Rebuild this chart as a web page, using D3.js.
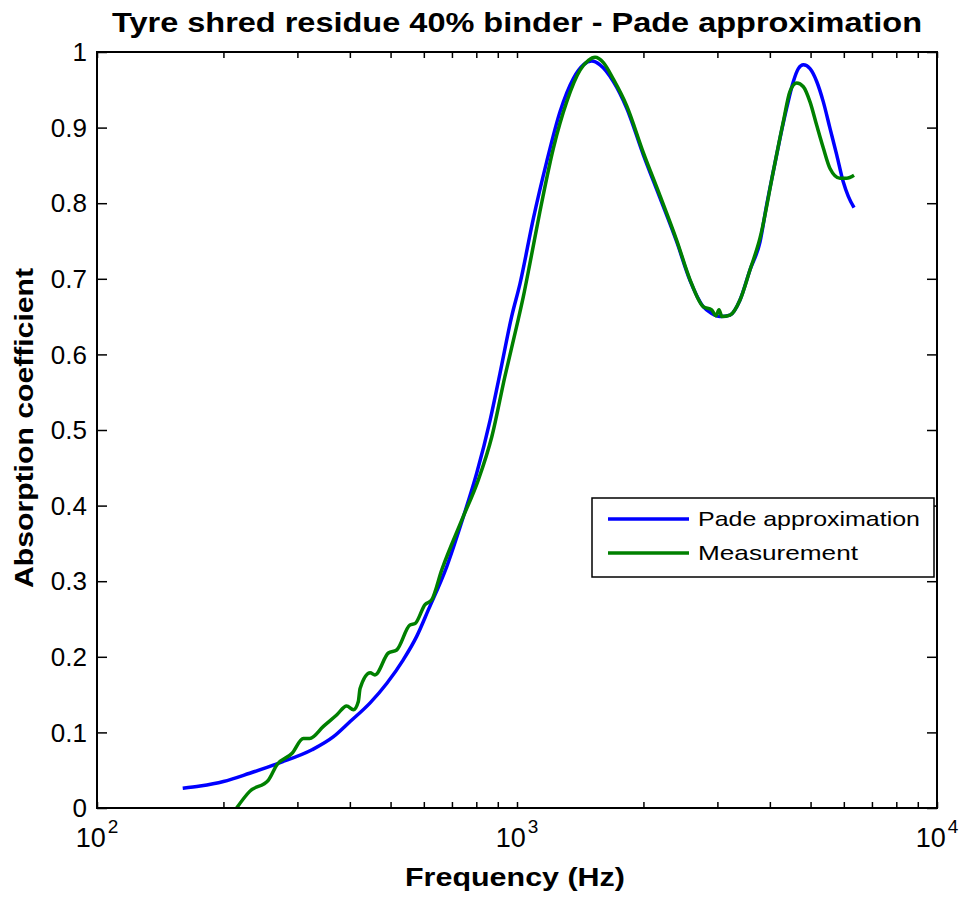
<!DOCTYPE html>
<html>
<head>
<meta charset="utf-8">
<script src="https://cdn.jsdelivr.net/npm/d3@7"></script>
<style>
  html, body { margin: 0; padding: 0; background: #fff; }
  svg { display: block; }
  text { font-family: "Liberation Sans", Arial, sans-serif; fill: #000; }
</style>
</head>
<body>
<svg id="chart" width="962" height="897"></svg>
<script>
// ---------------- DATA ----------------
const chartTitle = "Tyre shred residue 40% binder - Pade approximation";
const xLabel = "Frequency (Hz)";
const yLabel = "Absorption coefficient";
const seriesNames = ["Pade approximation", "Measurement"];

const xMajorTicks = [100, 1000, 10000];
const xMajorExponents = ["2", "3", "4"];
const xMinorTicks = [200, 300, 400, 500, 600, 700, 800, 900,
                     2000, 3000, 4000, 5000, 6000, 7000, 8000, 9000];
const yTicks = [0, 0.1, 0.2, 0.3, 0.4, 0.5, 0.6, 0.7, 0.8, 0.9, 1];
const yTickLabels = ["0", "0.1", "0.2", "0.3", "0.4", "0.5", "0.6", "0.7", "0.8", "0.9", "1"];

// Pade approximation (blue)
const padeFreq = [160, 176, 200, 231, 273, 325, 365, 400, 447, 490, 536, 577, 615, 680,
  745, 802, 863, 911, 971, 1017, 1094, 1177, 1266, 1362, 1439, 1506, 1576, 1696, 1824,
  1999, 2190, 2400, 2581, 2777, 2908, 3043, 3215, 3396, 3588, 3790, 3931, 4076, 4229,
  4387, 4550, 4676, 4806, 4985, 5171, 5362, 5562, 5771, 5983, 6150, 6345];
const padeAbs = [0.026, 0.029, 0.035, 0.046, 0.060, 0.077, 0.094, 0.114, 0.139, 0.165,
  0.196, 0.227, 0.262, 0.319, 0.385, 0.443, 0.513, 0.575, 0.650, 0.694, 0.780, 0.855,
  0.921, 0.965, 0.983, 0.988, 0.983, 0.961, 0.926, 0.864, 0.807, 0.749, 0.698, 0.663,
  0.654, 0.650, 0.652, 0.672, 0.712, 0.749, 0.798, 0.842, 0.886, 0.926, 0.961, 0.978,
  0.983, 0.978, 0.961, 0.934, 0.899, 0.864, 0.828, 0.809, 0.794];

// Measurement (green)
const measFreq = [215, 231, 256, 268, 291, 310, 321, 346, 372, 393, 408, 419, 423, 447,
  459, 494, 517, 556, 572, 604, 626, 662, 739, 809, 871, 936, 998, 1035, 1074, 1134,
  1221, 1313, 1413, 1479, 1534, 1606, 1696, 1824, 1999, 2190, 2400, 2581, 2777, 2908,
  2977, 3027, 3076, 3215, 3396, 3588, 3790, 4076, 4306, 4467, 4634, 4806, 4985, 5171,
  5362, 5562, 5875, 6095, 6345];
const measAbs = [0.000, 0.022, 0.037, 0.057, 0.072, 0.092, 0.092, 0.108, 0.123, 0.135,
  0.130, 0.141, 0.158, 0.179, 0.176, 0.205, 0.209, 0.242, 0.244, 0.269, 0.275, 0.315,
  0.381, 0.434, 0.491, 0.571, 0.637, 0.676, 0.721, 0.789, 0.873, 0.934, 0.976, 0.989,
  0.993, 0.986, 0.964, 0.929, 0.867, 0.810, 0.751, 0.699, 0.663, 0.659, 0.651, 0.659,
  0.650, 0.652, 0.672, 0.712, 0.754, 0.842, 0.908, 0.948, 0.959, 0.954, 0.934, 0.903,
  0.873, 0.846, 0.833, 0.833, 0.837];

const seriesColors = ["#0000ff", "#008000"];

// ---------------- LAYOUT ----------------
const plotL = 97, plotR = 937, plotT = 52, plotB = 808;
const svg = d3.select("#chart");

const x = d3.scaleLog().domain([100, 10000]).range([plotL, plotR]);
const y = d3.scaleLinear().domain([0, 1]).range([plotB, plotT]);

// clip
svg.append("defs").append("clipPath").attr("id", "clip")
  .append("rect").attr("x", plotL).attr("y", plotT)
  .attr("width", plotR - plotL).attr("height", plotB - plotT);

// lines
const line = d3.line().x(d => x(d[0])).y(d => y(d[1])).curve(d3.curveMonotoneX);
const padeData = padeFreq.map((f, i) => [f, padeAbs[i]]);
const measData = measFreq.map((f, i) => [f, measAbs[i]]);

const g = svg.append("g").attr("clip-path", "url(#clip)");
g.append("path").datum(padeData).attr("d", line)
  .attr("fill", "none").attr("stroke", seriesColors[0]).attr("stroke-width", 3.5)
  .attr("stroke-linejoin", "round");
g.append("path").datum(measData).attr("d", line)
  .attr("fill", "none").attr("stroke", seriesColors[1]).attr("stroke-width", 3.5)
  .attr("stroke-linejoin", "round");

// axes (ticks inward, all four sides)
const allXTicks = xMajorTicks.concat(xMinorTicks);
const xTickLen = 6, yTickLen = 10;

const axB = svg.append("g").attr("transform", `translate(0,${plotB})`)
  .call(d3.axisBottom(x).tickValues(allXTicks).tickSize(-xTickLen).tickFormat(""));
const axT = svg.append("g").attr("transform", `translate(0,${plotT})`)
  .call(d3.axisTop(x).tickValues(allXTicks).tickSize(-xTickLen).tickFormat(""));
const axL = svg.append("g").attr("transform", `translate(${plotL},0)`)
  .call(d3.axisLeft(y).tickValues(yTicks).tickSize(-yTickLen).tickFormat(""));
const axR = svg.append("g").attr("transform", `translate(${plotR},0)`)
  .call(d3.axisRight(y).tickValues(yTicks).tickSize(-yTickLen).tickFormat(""));
[axB, axT, axL, axR].forEach(a => {
  a.select(".domain").remove();
  a.selectAll(".tick line").attr("stroke", "#000").attr("stroke-width", 1.5);
});

// box
svg.append("rect").attr("x", plotL).attr("y", plotT)
  .attr("width", plotR - plotL).attr("height", plotB - plotT)
  .attr("fill", "none").attr("stroke", "#000").attr("stroke-width", 2);

// y tick labels
svg.append("g").selectAll("text").data(yTicks).join("text")
  .attr("x", 87).attr("y", d => y(d))
  .attr("dy", "0.35em")
  .attr("text-anchor", "end")
  .attr("font-size", 26)
  .text((d, i) => yTickLabels[i]);

// x tick labels 10^n
const xl = svg.append("g").selectAll("text").data(xMajorTicks).join("text")
  .attr("x", d => x(d)).attr("y", 847)
  .attr("text-anchor", "middle")
  .attr("font-size", 27);
xl.append("tspan").text("10");
xl.append("tspan").attr("font-size", 19).attr("dy", -14).attr("dx", 2)
  .text((d, i) => xMajorExponents[i]);

// title
svg.append("text").attr("x", 517).attr("y", 32)
  .attr("text-anchor", "middle").attr("font-size", 28).attr("font-weight", "bold")
  .attr("textLength", 810).attr("lengthAdjust", "spacingAndGlyphs")
  .text(chartTitle);

// axis labels
svg.append("text").attr("x", 515).attr("y", 886)
  .attr("text-anchor", "middle").attr("font-size", 26).attr("font-weight", "bold")
  .attr("textLength", 220).attr("lengthAdjust", "spacingAndGlyphs")
  .text(xLabel);
svg.append("text")
  .attr("transform", "translate(33,428) rotate(-90)")
  .attr("text-anchor", "middle").attr("font-size", 25).attr("font-weight", "bold")
  .attr("textLength", 320).attr("lengthAdjust", "spacingAndGlyphs")
  .text(yLabel);

// legend
const lg = svg.append("g");
lg.append("rect").attr("x", 592).attr("y", 498).attr("width", 342).attr("height", 79)
  .attr("fill", "#fff").attr("stroke", "#000").attr("stroke-width", 1.5);
const legY = [519, 553];
const legW = [222, 160];
seriesNames.forEach((name, i) => {
  lg.append("line").attr("x1", 608).attr("x2", 689).attr("y1", legY[i]).attr("y2", legY[i])
    .attr("stroke", seriesColors[i]).attr("stroke-width", 3.5);
  lg.append("text").attr("x", 698).attr("y", legY[i]).attr("dy", "0.35em")
    .attr("font-size", 21)
    .attr("textLength", legW[i]).attr("lengthAdjust", "spacingAndGlyphs")
    .text(name);
});
</script>
</body>
</html>
